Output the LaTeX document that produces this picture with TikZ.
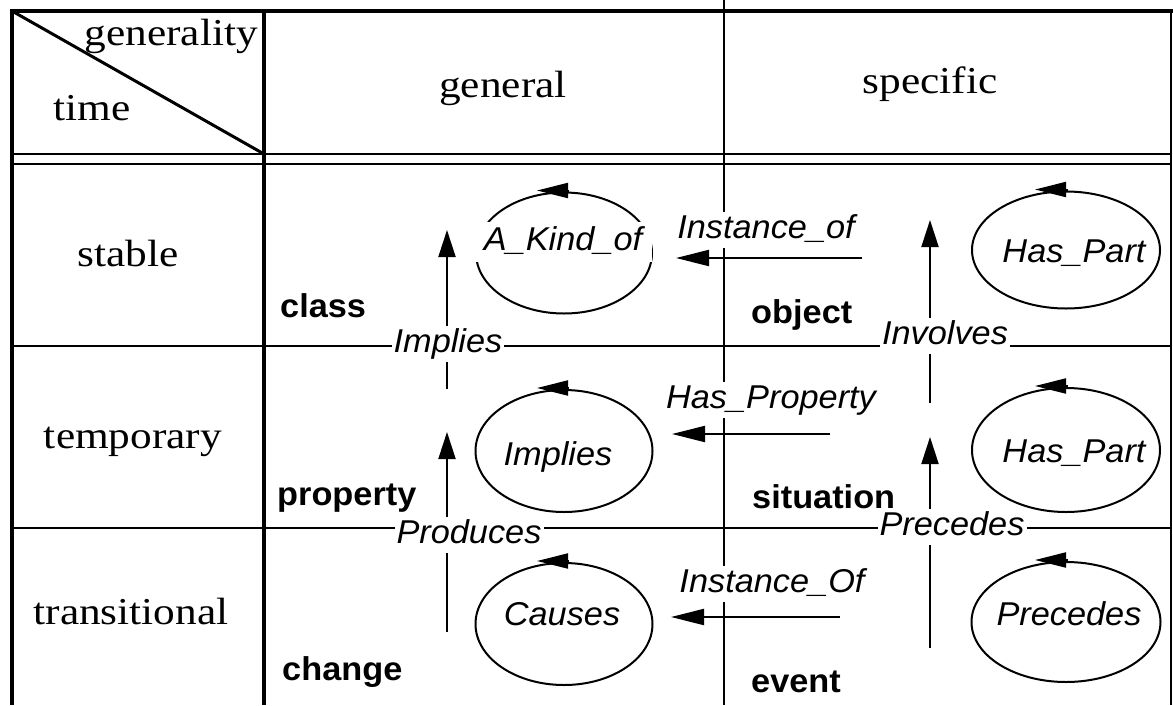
\documentclass[tikz,border=0pt]{standalone}
\usepackage{fontspec}
\setmainfont{Liberation Serif}
\newfontfamily\tmfont{Liberation Serif}[FakeStretch=1.14]
\newfontfamily\hvfont{Liberation Sans}[FakeStretch=1.04]
\usetikzlibrary{shapes.geometric,arrows.meta}
\begin{document}
\begin{tikzpicture}[x=1pt,y=-1pt,
  thickrule/.style={line width=4.5pt},
  thinrule/.style={line width=2pt},
  hdr/.style={font=\tmfont\fontsize{38}{40}\selectfont, inner sep=0pt, anchor=base},
  concept/.style={font=\hvfont\bfseries\fontsize{33}{36}\selectfont, inner sep=0pt, anchor=base west},
  rel/.style={font=\hvfont\itshape\fontsize{33}{36}\selectfont, inner xsep=2pt, inner ysep=2pt,
              text height=24pt, text depth=8pt, fill=white, anchor=base},
  loopell/.style={draw, ellipse, line width=2pt, inner sep=0pt},
  harrow/.style={line width=2pt, -{Triangle[length=33pt,width=16pt]}},
  varrow/.style={line width=2pt, -{Triangle[length=27pt,width=17pt]}},
  looptip/.style={line width=2pt, -{Triangle[length=31pt,width=15pt]}},
]
\useasboundingbox (0,0) rectangle (1173,705);

% table rules
\draw[thinrule] (724,0) -- (724,705);
\draw[thinrule] (12,154) -- (1171,154);
\draw[thinrule] (12,164) -- (1171,164);
\draw[thinrule] (12,346) -- (1171,346);
\draw[thinrule] (12,528) -- (1171,528);
\draw[thinrule] (1171,11) -- (1171,705);
\draw[thickrule] (12,9) -- (12,705);
\draw[thickrule] (10,11) -- (1173,11);
\draw[thickrule] (264,11) -- (264,705);
\draw[line width=3pt] (12,11) -- (264,154);

% headers
\node[hdr, anchor=base east] (hgenerality) at (258,45) {generality};
\node[hdr] (htime) at (92,120) {time};
\node[hdr] (hgeneral) at (503,97) {general};
\node[hdr] (hspecific) at (930,93) {specific};
\node[hdr] (rstable) at (128,266) {stable};
\node[hdr] (rtemporary) at (133,448) {temporary};
\node[hdr] (rtransitional) at (131,624) {transitional};

% concepts
\node[concept] (class) at (280,317) {class};
\node[concept] (object) at (751,323) {object};
\node[concept] (property) at (277,505) {property};
\node[concept] (situation) at (752,508) {situation};
\node[concept] (change) at (282,680) {change};
\node[concept] (event) at (751,692) {event};

% self-loop ellipses
\node[loopell, minimum width=176pt, minimum height=121pt] (kindof) at (564,253) {};
\node[loopell, minimum width=188pt, minimum height=117pt] (haspartA) at (1066,250) {};
\node[loopell, minimum width=177pt, minimum height=122pt] (implies) at (564,451) {};
\node[loopell, minimum width=188pt, minimum height=124pt] (haspartB) at (1066,450) {};
\node[loopell, minimum width=177pt, minimum height=122pt] (causes) at (564,624) {};
\node[loopell, minimum width=189pt, minimum height=120pt] (precedes) at (1066,622) {};

\foreach \e in {kindof,implies,causes}{
  \draw[looptip] ([xshift=4pt,yshift=1pt]\e.north) -- ([xshift=-27pt,yshift=1pt]\e.north);
}
\foreach \e in {haspartA,haspartB,precedes}{
  \draw[looptip] ([xshift=2pt,yshift=1pt]\e.north) -- ([xshift=-31pt,yshift=1pt]\e.north);
}

\node[rel, inner xsep=10pt, inner ysep=4pt] (lkindof) at (563,250) {A\_Kind\_of};
\node[rel] (lhaspartA) at (1074,262) {Has\_Part};
\node[rel] (limplies) at (558,465) {Implies};
\node[rel] (lhaspartB) at (1074,462) {Has\_Part};
\node[rel] (lcauses) at (562,625) {Causes};
\node[rel] (lprecedes) at (1069,625) {Precedes};

% horizontal arrows
\coordinate (h1s) at (862,258); \coordinate (h1e) at (676,258);
\coordinate (h2s) at (830,434); \coordinate (h2e) at (672,434);
\coordinate (h3s) at (840,617); \coordinate (h3e) at (671,617);
\draw[harrow] (h1s) -- (h1e);
\draw[harrow] (h2s) -- (h2e);
\draw[harrow] (h3s) -- (h3e);
\node[rel] (linstof) at (766,238) {Instance\_of};
\node[rel] (lhasprop) at (771,408) {Has\_Property};
\node[rel] (linstOf) at (772,592) {Instance\_Of};

% vertical arrows
\coordinate (vAs) at (447,389); \coordinate (vAe) at (447,230);
\coordinate (vBs) at (447,632); \coordinate (vBe) at (447,432);
\coordinate (vCs) at (930,403); \coordinate (vCe) at (930,220);
\coordinate (vDs) at (930,648); \coordinate (vDe) at (930,437);
\draw[varrow] (vAs) -- (vAe);
\draw[varrow] (vBs) -- (vBe);
\draw[varrow] (vCs) -- (vCe);
\draw[varrow] (vDs) -- (vDe);
\node[rel] (lvimplies) at (448,352) {Implies};
\node[rel] (lproduces) at (469,543) {Produces};
\node[rel] (linvolves) at (945,344) {Involves};
\node[rel] (lvprecedes) at (952,535) {Precedes};
\end{tikzpicture}
\end{document}
